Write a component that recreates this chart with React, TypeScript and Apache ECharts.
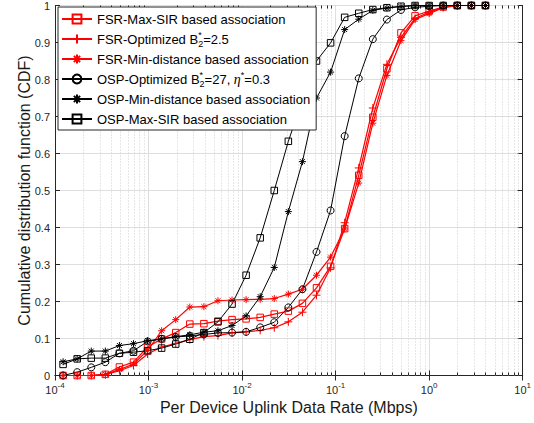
import React, { useEffect, useRef } from "react";
import * as echarts from "echarts";

const FONT = "'Liberation Sans', Arial, Helvetica, sans-serif";
const AXIS_INK = "#262626";

// Per-device uplink data rate samples (Mbps), half-octave steps from 2^-13 to 2^2
const rates = [
  0.00012207, 0.00017263, 0.00024414, 0.00034527, 0.00048828, 0.00069053,
  0.00097656, 0.0013811, 0.0019531, 0.0027621, 0.0039063, 0.0055243,
  0.0078125, 0.011049, 0.015625, 0.022097, 0.03125, 0.044194, 0.0625,
  0.088388, 0.125, 0.17678, 0.25, 0.35355, 0.5, 0.70711, 1, 1.4142, 2,
  2.8284, 4,
];

// CDF values, one per rate sample
const fsrMaxSir = [
  0, 0, 0, 0.003, 0.023, 0.036, 0.077, 0.099, 0.116, 0.139, 0.14, 0.147,
  0.151, 0.153, 0.157, 0.166, 0.174, 0.195, 0.237, 0.295, 0.397, 0.541,
  0.698, 0.829, 0.926, 0.972, 0.985, 0.996, 1, 1, 1,
];
const fsrOptimized = [
  0, 0, 0, 0.002, 0.013, 0.027, 0.058, 0.077, 0.087, 0.097, 0.105, 0.108,
  0.115, 0.118, 0.122, 0.129, 0.145, 0.171, 0.217, 0.291, 0.413, 0.561,
  0.723, 0.841, 0.914, 0.965, 0.982, 0.995, 1, 1, 1,
];
const fsrMinDistance = [
  0, 0, 0, 0.003, 0.016, 0.031, 0.068, 0.121, 0.151, 0.185, 0.186, 0.202,
  0.204, 0.205, 0.206, 0.208, 0.22, 0.233, 0.271, 0.32, 0.396, 0.52, 0.682,
  0.811, 0.905, 0.962, 0.978, 0.994, 1, 1, 1,
];
const ospOptimized = [
  0, 0.009, 0.022, 0.036, 0.06, 0.067, 0.092, 0.099, 0.104, 0.107, 0.111,
  0.115, 0.116, 0.118, 0.13, 0.144, 0.184, 0.233, 0.334, 0.446, 0.647,
  0.803, 0.909, 0.962, 0.988, 0.995, 0.998, 1, 1, 1, 1,
];
const ospMinDistance = [
  0.037, 0.045, 0.066, 0.066, 0.081, 0.086, 0.094, 0.099, 0.105, 0.11,
  0.117, 0.121, 0.135, 0.161, 0.213, 0.292, 0.443, 0.578, 0.75, 0.82,
  0.935, 0.963, 0.987, 0.993, 0.997, 1, 1, 1, 1, 1, 1,
];
const ospMaxSir = [
  0.03, 0.045, 0.047, 0.047, 0.06, 0.063, 0.067, 0.074, 0.085, 0.098,
  0.116, 0.145, 0.193, 0.271, 0.372, 0.5, 0.633, 0.745, 0.85, 0.899, 0.968,
  0.979, 0.989, 0.994, 0.998, 1, 1, 1, 1, 1, 1,
];

const seriesNames = [
  "FSR-Max-SIR based association",
  "FSR-Optimized B2*=2.5",
  "FSR-Min-distance based association",
  "OSP-Optimized B2*=27, eta*=0.3",
  "OSP-Min-distance based association",
  "OSP-Max-SIR based association",
];

const legendText: Record<string, string> = {
  [seriesNames[0]]: "FSR-Max-SIR based association",
  [seriesNames[1]]: "FSR-Optimized B{supz|*}{sub|2}=2.5",
  [seriesNames[2]]: "FSR-Min-distance based association",
  [seriesNames[3]]: "OSP-Optimized B{supz|*}{sub|2}=27, {it|η}{sup|*}=0.3",
  [seriesNames[4]]: "OSP-Min-distance based association",
  [seriesNames[5]]: "OSP-Max-SIR based association",
};

const X_MIN = 1e-4;
const X_MAX = 10;

// Minor log-axis positions (2..9 within each decade)
const minorTicks: number[] = [];
for (let e = -4; e <= 0; e++) {
  for (let m = 2; m <= 9; m++) minorTicks.push(m * Math.pow(10, e));
}

const PLUS = "path://M0,-1L0,1M-1,0L1,0";
const STAR =
  "path://M0,-1L0,1M-1,0L1,0M-0.707,-0.707L0.707,0.707M-0.707,0.707L0.707,-0.707";

function lineSeries(
  name: string,
  values: number[],
  color: string,
  symbol: string,
  size: number,
  width: number
) {
  return {
    name,
    type: "line",
    data: rates.map((r, i) => [r, values[i]]),
    symbol,
    symbolSize: size,
    showSymbol: true,
    z: 3,
    lineStyle: { color, width },
    itemStyle: { color: "rgba(0,0,0,0)", borderColor: color, borderWidth: 1 },
    emphasis: { disabled: true },
  };
}

export default function App() {
  const ref = useRef<HTMLDivElement>(null);

  useEffect(() => {
    document.body.style.margin = "0";
    const chart = echarts.init(ref.current!, undefined, { renderer: "svg" });

    const option: any = {
      animation: false,
      backgroundColor: "#ffffff",
      grid: { left: 55, right: 10, top: 5.5, bottom: 47.5 },
      legend: {
        data: seriesNames,
        orient: "vertical",
        left: 58,
        top: 7,
        padding: [3, 6, 2, 3],
        itemGap: 2,
        itemWidth: 30,
        itemHeight: 11,
        backgroundColor: "#ffffff",
        borderColor: AXIS_INK,
        borderWidth: 1,
        borderRadius: 0,
        selectedMode: false,
        formatter: (name: string) => legendText[name] ?? name,
        textStyle: {
          fontFamily: FONT,
          fontSize: 13,
          lineHeight: 18,
          color: "#000",
          rich: {
            sup: {
              fontFamily: FONT,
              fontSize: 9,
              lineHeight: 9,
              verticalAlign: "top",
              color: "#000",
            },
            supz: {
              fontFamily: FONT,
              fontSize: 9,
              lineHeight: 9,
              verticalAlign: "top",
              width: 0,
              color: "#000",
            },
            sub: {
              fontFamily: FONT,
              fontSize: 9,
              lineHeight: 9,
              verticalAlign: "bottom",
              color: "#000",
            },
            it: {
              fontFamily: "'Liberation Serif', serif",
              fontStyle: "italic",
              fontSize: 14,
              lineHeight: 18,
              color: "#000",
            },
          },
        },
      },
      xAxis: [
        {
          type: "log",
          logBase: 10,
          min: X_MIN,
          max: X_MAX,
          position: "bottom",
          name: "Per Device Uplink Data Rate (Mbps)",
          nameLocation: "middle",
          nameGap: 24,
          nameMoveOverlap: false,
          nameTextStyle: { fontFamily: FONT, fontSize: 16, color: "#1a1a1a" },
          axisLine: { show: true, lineStyle: { color: AXIS_INK, width: 1 } },
          axisTick: { show: true, inside: true, length: 5, lineStyle: { color: AXIS_INK } },
          axisLabel: {
            margin: 6,
            formatter: (v: number) => `{b|10}{s|${Math.round(Math.log10(v))}}`,
            rich: {
              b: { fontFamily: FONT, fontSize: 11, lineHeight: 16, color: AXIS_INK },
              s: {
                fontFamily: FONT,
                fontSize: 8,
                lineHeight: 8,
                verticalAlign: "top",
                color: AXIS_INK,
              },
            },
          },
          splitLine: { show: true, lineStyle: { color: "#dedede", width: 1 } },
        },
        {
          type: "log",
          logBase: 10,
          min: X_MIN,
          max: X_MAX,
          position: "top",
          axisLine: { show: true, lineStyle: { color: AXIS_INK, width: 1 } },
          axisTick: { show: true, inside: true, length: 5, lineStyle: { color: AXIS_INK } },
          axisLabel: { show: false },
          splitLine: { show: false },
        },
      ],
      yAxis: [
        {
          type: "value",
          min: 0,
          max: 1,
          interval: 0.1,
          position: "left",
          name: "Cumulative distribution function (CDF)",
          nameLocation: "middle",
          nameGap: 23,
          nameMoveOverlap: false,
          nameTextStyle: { fontFamily: FONT, fontSize: 16, color: "#1a1a1a" },
          axisLine: { show: true, lineStyle: { color: AXIS_INK, width: 1 } },
          axisTick: { show: true, inside: true, length: 5, lineStyle: { color: AXIS_INK } },
          axisLabel: { margin: 5, fontFamily: FONT, fontSize: 11, color: AXIS_INK },
          splitLine: { show: true, lineStyle: { color: "#dedede", width: 1 } },
        },
        {
          type: "value",
          min: 0,
          max: 1,
          interval: 0.1,
          position: "right",
          axisLine: { show: true, lineStyle: { color: AXIS_INK, width: 1 } },
          axisTick: { show: true, inside: true, length: 5, lineStyle: { color: AXIS_INK } },
          axisLabel: { show: false },
          splitLine: { show: false },
        },
      ],
      series: [
        {
          type: "custom",
          silent: true,
          z: 1,
          xAxisIndex: 0,
          yAxisIndex: 0,
          data: minorTicks.map((v) => [v, 0]),
          encode: { x: 0, y: 1 },
          renderItem: (_params: any, api: any) => {
            const v = api.value(0);
            const b = api.coord([v, 0]);
            const t = api.coord([v, 1]);
            const x = Math.round(b[0]) + 0.5;
            return {
              type: "group",
              children: [
                {
                  type: "line",
                  shape: { x1: x, y1: t[1], x2: x, y2: b[1] },
                  style: { stroke: "#cfcfcf", lineWidth: 1, lineDash: [1, 2] },
                },
                {
                  type: "line",
                  shape: { x1: x, y1: b[1], x2: x, y2: b[1] - 3 },
                  style: { stroke: AXIS_INK, lineWidth: 1 },
                },
                {
                  type: "line",
                  shape: { x1: x, y1: t[1], x2: x, y2: t[1] + 3 },
                  style: { stroke: AXIS_INK, lineWidth: 1 },
                },
              ],
            };
          },
        },
        lineSeries(seriesNames[0], fsrMaxSir, "#ff0000", "rect", 6.5, 1.2),
        lineSeries(seriesNames[1], fsrOptimized, "#ff0000", PLUS, 8, 1.2),
        lineSeries(seriesNames[2], fsrMinDistance, "#ff0000", STAR, 7, 1.2),
        lineSeries(seriesNames[3], ospOptimized, "#000000", "circle", 7, 1),
        lineSeries(seriesNames[4], ospMinDistance, "#000000", STAR, 7, 1),
        lineSeries(seriesNames[5], ospMaxSir, "#000000", "rect", 6.5, 1),
      ],
    };

    chart.setOption(option);
    return () => chart.dispose();
  }, []);

  return (
    <div
      ref={ref}
      style={{ position: "fixed", left: 0, top: 0, width: 534, height: 423 }}
    />
  );
}
